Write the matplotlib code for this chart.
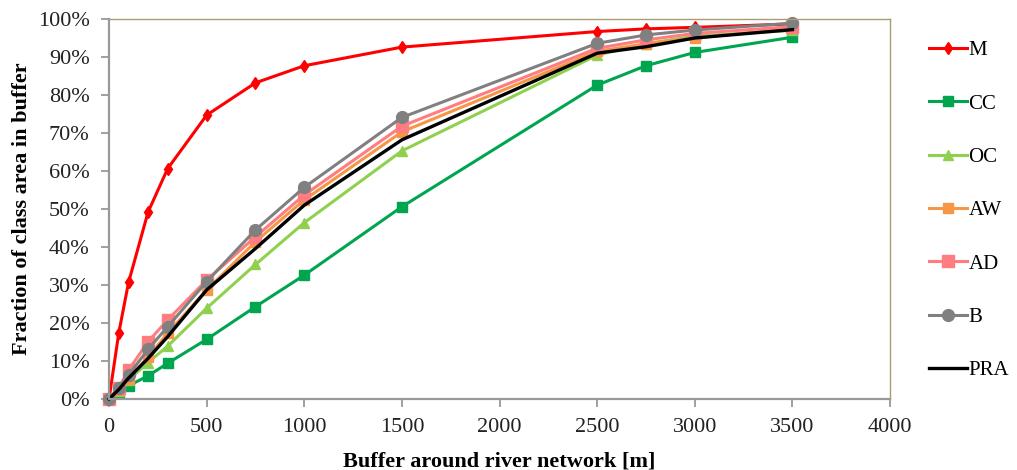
import numpy as np
import matplotlib
matplotlib.use("Agg")
import matplotlib.pyplot as plt
from matplotlib.ticker import PercentFormatter

# buffer distances [m]
buffer_m = [0, 50, 100, 200, 300, 500, 750, 1000, 1500, 2500, 2750, 3000, 3500]

# fraction of class area in buffer [%]
frac_M = [0, 17.4, 30.7, 49.2, 60.6, 74.7, 83.2, 87.7, 92.6, 96.7, 97.4, 97.8, 98.7]
frac_CC = [0, 1.5, 3.5, 6.1, 9.4, 15.7, 24.3, 32.6, 50.6, 82.6, 87.7, 91.2, 95.2]
frac_OC = [0, 2.0, 5.0, 9.6, 13.9, 23.9, 35.4, 46.4, 65.3, 90.5, 93.5, 95.5, 97.0]
frac_AW = [0, 2.5, 5.4, 11.1, 17.3, 28.7, 41.4, 52.4, 70.3, 91.5, 93.5, 95.0, 97.5]
frac_AD = [0, 3.0, 7.6, 15.1, 20.8, 31.3, 42.7, 53.7, 71.8, 92.3, 94.5, 96.2, 98.0]
frac_B = [0, 3.0, 6.3, 13.1, 19.0, 30.9, 44.5, 55.7, 74.1, 93.6, 95.8, 97.1, 98.9]
frac_PRA = [0, 2.5, 5.5, 10.7, 16.4, 28.7, 39.6, 51.0, 68.2, 91.0, 92.7, 95.0, 97.2]

plt.rcParams['font.family'] = ['Liberation Serif', 'DejaVu Serif']

fig = plt.figure(figsize=(10.17, 4.70), dpi=100)
ax = fig.add_axes([0.1072, 0.151, 0.768, 0.8086])

series = [
    ('M', frac_M, '#ff0000', 'd', 6.5),
    ('CC', frac_CC, '#00a550', 's', 7.5),
    ('OC', frac_OC, '#8fd14f', '^', 7.5),
    ('AW', frac_AW, '#f79646', 's', 7.5),
    ('AD', frac_AD, '#ff7c80', 's', 8.5),
    ('B', frac_B, '#808080', 'o', 8.5),
]
for name, vals, col, mk, ms in series:
    ax.plot(buffer_m, vals, color=col, marker=mk, markersize=ms, lw=2.2,
            label=name, clip_on=False)
ax.plot(buffer_m, frac_PRA, color='black', lw=2.4, label='PRA', clip_on=False)

ax.set_xlim(0, 4000)
ax.set_ylim(0, 100)
ax.set_xticks(range(0, 4001, 500))
ax.set_yticks(range(0, 101, 10))
ax.yaxis.set_major_formatter(PercentFormatter(decimals=0))
ax.tick_params(labelsize=16, colors='#999999', length=6, width=1.3,
               labelcolor='#222222')
ax.tick_params(axis='y', pad=8)
ax.tick_params(axis='x', pad=8)

for s in ['left', 'bottom']:
    ax.spines[s].set_color('#999999')
    ax.spines[s].set_linewidth(1.6)
for s in ['top', 'right']:
    ax.spines[s].set_color('#a89c70')
    ax.spines[s].set_linewidth(1.0)

ax.set_xlabel('Buffer around river network [m]', fontsize=16, fontweight='bold',
              labelpad=10)
ax.set_ylabel('Fraction of class area in buffer', fontsize=16, fontweight='bold',
              labelpad=4)

ax.legend(loc='upper left', bbox_to_anchor=(1.039, 0.965), frameon=False,
          fontsize=15, handlelength=1.85, handletextpad=0.05, labelspacing=1.62,
          borderaxespad=0)

fig.savefig('out.png', dpi=100)
